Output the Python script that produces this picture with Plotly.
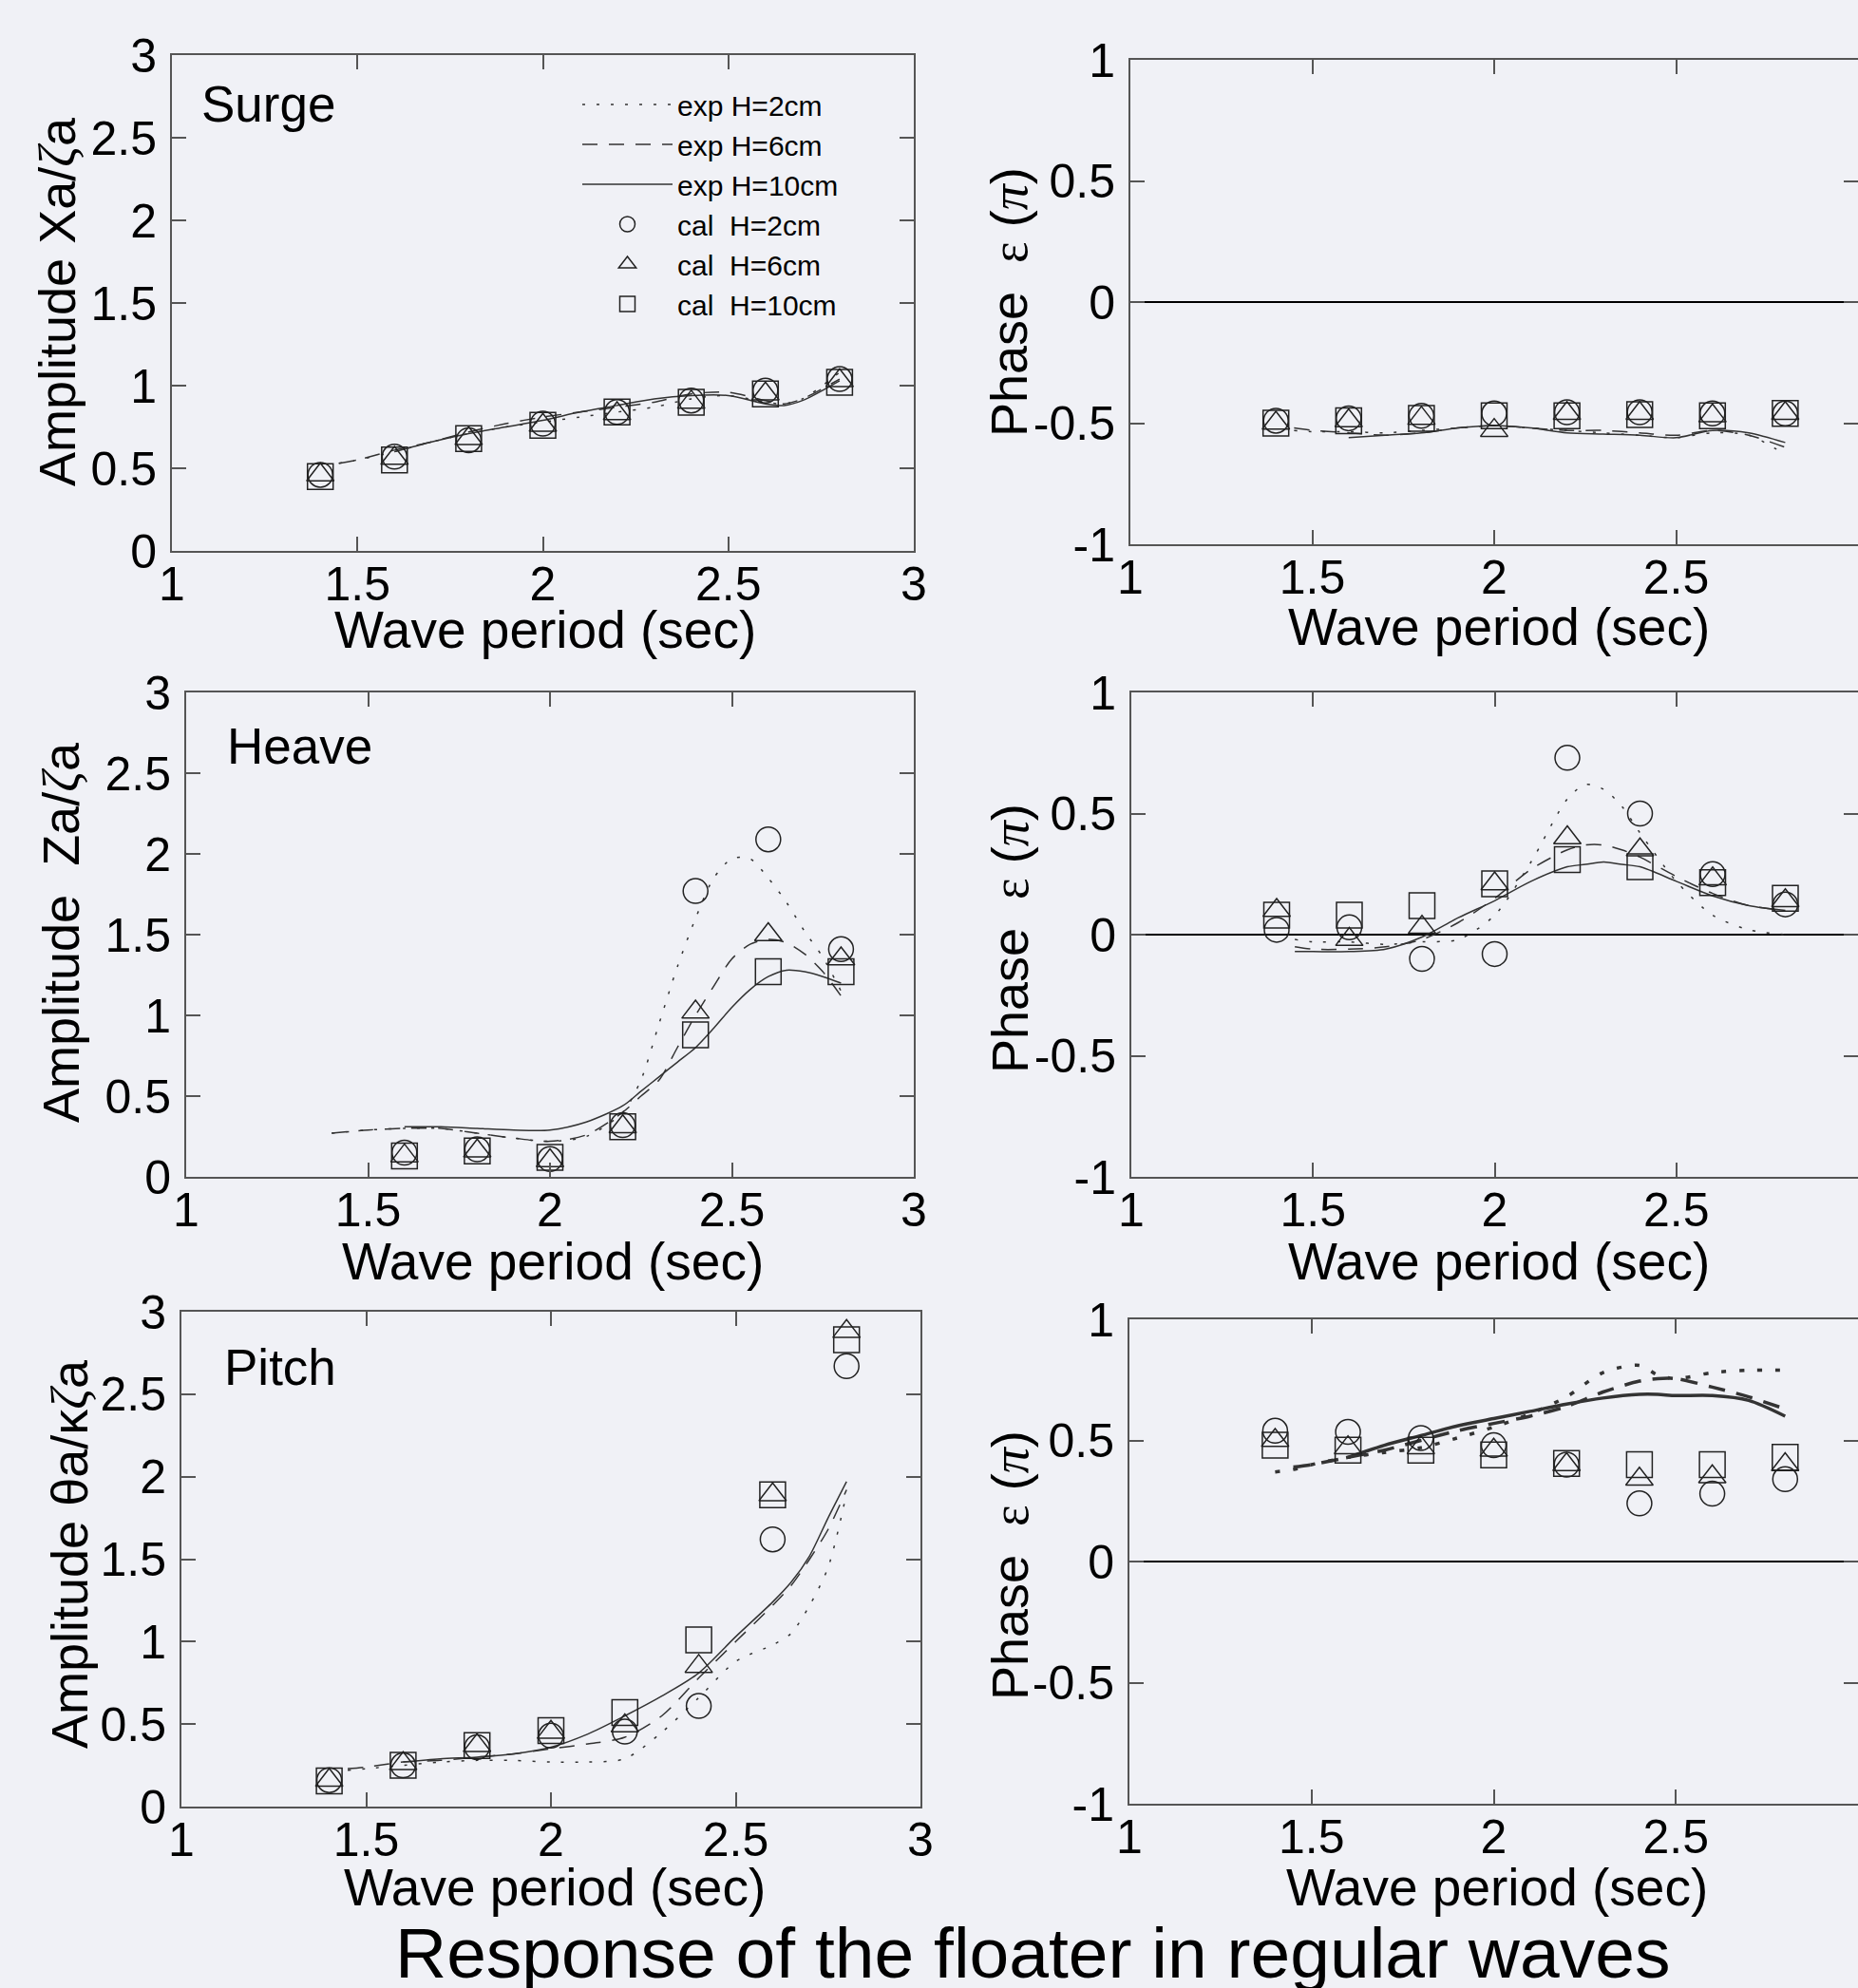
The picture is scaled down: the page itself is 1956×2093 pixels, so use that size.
import plotly.graph_objects as go

# ---------------- data ----------------
T_cal = [1.4, 1.6, 1.8, 2.0, 2.2, 2.4, 2.6, 2.8]

# Surge amplitude
surge_amp_T = [1.45, 1.5, 1.6, 1.7, 1.8, 1.9, 2.0, 2.1, 2.2, 2.3, 2.4, 2.5, 2.6, 2.65, 2.7, 2.8]
surge_amp_exp_H2 = [0.53, 0.55, 0.60, 0.66, 0.71, 0.75, 0.78, 0.81, 0.84, 0.87, 0.92, 0.94, 0.90, 0.89, 0.92, 1.08]
surge_amp_exp_H6 = [0.53, 0.55, 0.61, 0.66, 0.72, 0.77, 0.81, 0.84, 0.87, 0.90, 0.95, 0.96, 0.91, 0.89, 0.92, 1.04]
surge_amp_exp_H10 = [None, None, 0.60, 0.66, 0.71, 0.75, 0.79, 0.84, 0.88, 0.92, 0.94, 0.94, 0.89, 0.88, 0.91, 1.03]
surge_amp_cal_H2 = [0.46, 0.57, 0.67, 0.77, 0.84, 0.91, 0.97, 1.04]
surge_amp_cal_H6 = [0.46, 0.56, 0.68, 0.76, 0.83, 0.90, 0.95, 1.03]
surge_amp_cal_H10 = [0.45, 0.55, 0.68, 0.76, 0.84, 0.90, 0.95, 1.02]

# Surge phase
surge_ph_T = [1.45, 1.5, 1.6, 1.7, 1.8, 1.9, 2.0, 2.1, 2.2, 2.3, 2.4, 2.5, 2.6, 2.7, 2.8]
surge_ph_exp_H2 = [-0.53, -0.535, -0.535, -0.54, -0.53, -0.52, -0.51, -0.52, -0.53, -0.54, -0.55, -0.56, -0.54, -0.55, -0.63]
surge_ph_exp_H6 = [-0.52, -0.53, -0.54, -0.55, -0.54, -0.52, -0.51, -0.52, -0.53, -0.53, -0.54, -0.55, -0.53, -0.55, -0.60]
surge_ph_exp_H10 = [None, None, -0.56, -0.55, -0.54, -0.52, -0.51, -0.52, -0.54, -0.545, -0.55, -0.56, -0.53, -0.54, -0.58]
surge_ph_cal_H2 = [-0.49, -0.48, -0.47, -0.46, -0.455, -0.455, -0.46, -0.46]
surge_ph_cal_H6 = [-0.50, -0.49, -0.48, -0.53, -0.46, -0.46, -0.47, -0.46]
surge_ph_cal_H10 = [-0.50, -0.49, -0.48, -0.47, -0.47, -0.465, -0.47, -0.46]

# Heave amplitude
heave_amp_T = [1.4, 1.5, 1.6, 1.7, 1.8, 1.9, 2.0, 2.1, 2.2, 2.25, 2.3, 2.35, 2.4, 2.45, 2.5, 2.55, 2.6, 2.65, 2.7, 2.75, 2.8]
heave_amp_exp_H2 = [0.27, 0.29, 0.30, 0.30, 0.27, 0.24, 0.22, 0.25, 0.40, 0.60, 0.95, 1.30, 1.60, 1.85, 1.97, 1.97, 1.85, 1.70, 1.52, 1.36, 1.15]
heave_amp_exp_H6 = [0.27, 0.29, 0.30, 0.30, 0.27, 0.24, 0.22, 0.26, 0.40, 0.50, 0.60, 0.80, 1.00, 1.18, 1.35, 1.44, 1.47, 1.45, 1.38, 1.27, 1.12]
heave_amp_exp_H10 = [None, None, 0.31, 0.31, 0.30, 0.29, 0.29, 0.34, 0.44, 0.53, 0.62, 0.71, 0.80, 0.92, 1.05, 1.16, 1.24, 1.28, 1.27, 1.24, 1.20]
heave_amp_cal_H2 = [None, 0.15, 0.17, 0.11, 0.32, 1.77, 2.09, 1.41]
heave_amp_cal_H6 = [None, 0.13, 0.16, 0.10, 0.31, 1.02, 1.50, 1.35]
heave_amp_cal_H10 = [None, 0.13, 0.16, 0.12, 0.31, 0.88, 1.27, 1.27]

# Heave phase
heave_ph_T = [1.45, 1.5, 1.6, 1.7, 1.8, 1.9, 2.0, 2.1, 2.2, 2.25, 2.3, 2.35, 2.4, 2.5, 2.6, 2.7, 2.8]
heave_ph_exp_H2 = [-0.02, -0.03, -0.03, -0.04, -0.03, -0.02, 0.08, 0.30, 0.56, 0.62, 0.60, 0.53, 0.42, 0.22, 0.08, 0.02, 0.00]
heave_ph_exp_H6 = [-0.05, -0.06, -0.06, -0.05, -0.02, 0.05, 0.15, 0.27, 0.35, 0.37, 0.37, 0.35, 0.32, 0.24, 0.17, 0.12, 0.10]
heave_ph_exp_H10 = [-0.07, -0.07, -0.07, -0.06, -0.01, 0.07, 0.14, 0.22, 0.28, 0.29, 0.30, 0.29, 0.28, 0.22, 0.16, 0.12, 0.10]
heave_ph_cal_H2 = [0.02, 0.03, -0.10, -0.08, 0.73, 0.50, 0.25, 0.125]
heave_ph_cal_H6 = [0.10, -0.02, 0.03, 0.21, 0.40, 0.35, 0.23, 0.14]
heave_ph_cal_H10 = [0.08, 0.08, 0.12, 0.21, 0.31, 0.28, 0.215, 0.15]

# Pitch amplitude
pitch_amp_T = [1.45, 1.5, 1.6, 1.7, 1.8, 1.9, 2.0, 2.1, 2.2, 2.3, 2.4, 2.5, 2.6, 2.65, 2.7, 2.75, 2.8]
pitch_amp_exp_H2 = [0.22, 0.23, 0.25, 0.27, 0.28, 0.28, 0.27, 0.27, 0.29, 0.45, 0.66, 0.88, 0.98, 1.05, 1.22, 1.45, 1.90]
pitch_amp_exp_H6 = [0.23, 0.24, 0.27, 0.28, 0.30, 0.32, 0.35, 0.38, 0.42, 0.55, 0.78, 1.00, 1.22, 1.34, 1.50, 1.68, 1.92]
pitch_amp_exp_H10 = [None, None, 0.27, 0.29, 0.30, 0.32, 0.36, 0.44, 0.55, 0.67, 0.81, 1.03, 1.24, 1.36, 1.52, 1.75, 1.97]
pitch_amp_cal_H2 = [0.16, 0.25, 0.36, 0.43, 0.455, 0.61, 1.62, 2.67]
pitch_amp_cal_H6 = [0.16, 0.26, 0.37, 0.45, 0.49, 0.85, 1.89, 2.88]
pitch_amp_cal_H10 = [0.155, 0.25, 0.37, 0.46, 0.57, 1.01, 1.89, 2.83]

# Pitch phase
pitch_ph_T = [1.4, 1.45, 1.5, 1.6, 1.7, 1.8, 1.9, 2.0, 2.1, 2.2, 2.3, 2.4, 2.45, 2.5, 2.6, 2.7, 2.8]
pitch_ph_exp_H2 = [0.37, 0.38, 0.40, 0.43, 0.45, 0.47, 0.51, 0.555, 0.61, 0.68, 0.78, 0.81, 0.77, 0.755, 0.78, 0.79, 0.79]
pitch_ph_exp_H6 = [None, 0.39, 0.40, 0.43, 0.46, 0.50, 0.54, 0.57, 0.60, 0.64, 0.70, 0.745, 0.755, 0.755, 0.72, 0.68, 0.63]
pitch_ph_exp_H10 = [None, None, None, 0.43, 0.48, 0.52, 0.56, 0.59, 0.62, 0.65, 0.675, 0.69, 0.69, 0.685, 0.685, 0.665, 0.60]
pitch_ph_cal_H2 = [0.54, 0.535, 0.51, 0.48, 0.40, 0.24, 0.28, 0.34]
pitch_ph_cal_H6 = [0.50, 0.47, 0.47, 0.46, 0.40, 0.34, 0.35, 0.40]
pitch_ph_cal_H10 = [0.48, 0.46, 0.46, 0.44, 0.405, 0.40, 0.40, 0.43]

# ticks / labels
x_tick_vals = [1, 1.5, 2, 2.5, 3]
x_tick_text = ["1", "1.5", "2", "2.5", "3"]
amp_tick_vals = [0, 0.5, 1, 1.5, 2, 2.5, 3]
amp_tick_text = ["0", "0.5", "1", "1.5", "2", "2.5", "3"]
ph_tick_vals = [-1, -0.5, 0, 0.5, 1]
ph_tick_text = ["-1", "-0.5", "0", "0.5", "1"]
legend_names = ["exp H=2cm", "exp H=6cm", "exp H=10cm",
                "cal\u00a0 H=2cm", "cal\u00a0 H=6cm", "cal\u00a0 H=10cm"]

# ---------------- layout helpers ----------------
W, H = 1956, 2093
BG = "#f0f1f6"
FONT = "Liberation Sans, Arial, sans-serif"


def xd(a, b):
    return [a / W, min(b / W, 1.0)]


def yd(top, bottom):
    return [1 - bottom / H, 1 - top / H]


panels = [
    dict(x=(181, 962), y=(58, 580), kind="amp", T=surge_amp_T,
         exp=[surge_amp_exp_H2, surge_amp_exp_H6, surge_amp_exp_H10],
         cal=[surge_amp_cal_H2, surge_amp_cal_H6, surge_amp_cal_H10], bold=False),
    dict(x=(1190, 1956), y=(63, 573), kind="ph", T=surge_ph_T,
         exp=[surge_ph_exp_H2, surge_ph_exp_H6, surge_ph_exp_H10],
         cal=[surge_ph_cal_H2, surge_ph_cal_H6, surge_ph_cal_H10], bold=False),
    dict(x=(196, 962), y=(729, 1239), kind="amp", T=heave_amp_T,
         exp=[heave_amp_exp_H2, heave_amp_exp_H6, heave_amp_exp_H10],
         cal=[heave_amp_cal_H2, heave_amp_cal_H6, heave_amp_cal_H10], bold=False),
    dict(x=(1191, 1956), y=(729, 1239), kind="ph", T=heave_ph_T,
         exp=[heave_ph_exp_H2, heave_ph_exp_H6, heave_ph_exp_H10],
         cal=[heave_ph_cal_H2, heave_ph_cal_H6, heave_ph_cal_H10], bold=False),
    dict(x=(191, 969), y=(1381, 1902), kind="amp", T=pitch_amp_T,
         exp=[pitch_amp_exp_H2, pitch_amp_exp_H6, pitch_amp_exp_H10],
         cal=[pitch_amp_cal_H2, pitch_amp_cal_H6, pitch_amp_cal_H10], bold=False),
    dict(x=(1189, 1956), y=(1389, 1899), kind="ph", T=pitch_ph_T,
         exp=[pitch_ph_exp_H2, pitch_ph_exp_H6, pitch_ph_exp_H10],
         cal=[pitch_ph_cal_H2, pitch_ph_cal_H6, pitch_ph_cal_H10], bold=True),
]

dash_thin = ["3px,12px", "16px,12px", "solid"]
dash_bold = ["5px,14px", "18px,12px", "solid"]
symbols = ["circle-open", "triangle-up-open", "square-open"]
msizes = [26, 25, 27]
LINE_C = "#333333"
MARK_C = "#222222"

fig = go.Figure()
layout = dict(
    width=W, height=H,
    paper_bgcolor=BG, plot_bgcolor=BG,
    margin=dict(l=0, r=0, t=0, b=0, autoexpand=False),
    font=dict(family=FONT, color="black", size=30),
    showlegend=True,
    legend=dict(x=608 / W, y=1 - 84 / H, xanchor="left", yanchor="top",
                bgcolor="rgba(0,0,0,0)", borderwidth=0,
                font=dict(family=FONT, size=30, color="black"),
                itemwidth=95, tracegroupgap=0, traceorder="normal"),
)

for i, p in enumerate(panels):
    n = "" if i == 0 else str(i + 1)
    xa, ya = "x" + n, "y" + n
    first = (i == 0)
    lw = 3.5 if p["bold"] else 1.5
    dashes = dash_bold if p["bold"] else dash_thin
    for k in range(3):
        fig.add_trace(go.Scatter(
            x=p["T"], y=p["exp"][k], mode="lines", xaxis=xa, yaxis=ya,
            line=dict(color=LINE_C, width=lw, dash=dashes[k], shape="spline", smoothing=0.8),
            name=legend_names[k], legendgroup=legend_names[k], showlegend=first,
            connectgaps=False))
    for k in range(3):
        fig.add_trace(go.Scatter(
            x=T_cal, y=p["cal"][k], mode="markers", xaxis=xa, yaxis=ya,
            marker=dict(symbol=symbols[k], size=msizes[k], color=MARK_C,
                        line=dict(width=1.5, color=MARK_C)),
            name=legend_names[3 + k], legendgroup=legend_names[3 + k], showlegend=first))

    common = dict(showline=True, linecolor="#555555", linewidth=2, mirror="ticks",
                  ticks="inside", ticklen=15, tickwidth=1.5, tickcolor="#555555",
                  showgrid=False, tickfont=dict(family=FONT, size=50, color="black"))
    layout["xaxis" + n] = dict(domain=xd(*p["x"]), anchor=ya, range=[1, 3],
                               tickmode="array", tickvals=x_tick_vals, ticktext=x_tick_text,
                               zeroline=False, ticklabelstandoff=-10, **common)
    if p["kind"] == "amp":
        layout["yaxis" + n] = dict(domain=yd(*p["y"]), anchor=xa, range=[0, 3],
                                   tickmode="array", tickvals=amp_tick_vals, ticktext=amp_tick_text,
                                   zeroline=False, ticklabelstandoff=4, **common)
    else:
        layout["yaxis" + n] = dict(domain=yd(*p["y"]), anchor=xa, range=[-1, 1],
                                   tickmode="array", tickvals=ph_tick_vals, ticktext=ph_tick_text,
                                   zeroline=True, zerolinecolor="black", zerolinewidth=2,
                                   ticklabelstandoff=4, **common)

fig.update_layout(**layout)


def ann(text, x, y, size, angle=0, xanchor="center"):
    fig.add_annotation(text=text, x=x / W, y=1 - y / H, xref="paper", yref="paper",
                       showarrow=False, textangle=angle, xanchor=xanchor, yanchor="middle",
                       font=dict(family=FONT, size=size, color="black"))


zeta = '<span style="font-family:Liberation Serif"><i>ζ</i></span>'
pi_ = '<span style="font-family:Liberation Serif"><i>π</i></span>'
eps = '<span style="font-family:Liberation Serif">ε</span>'

# x-axis titles
for (cx, cy) in [(574, 663), (1578, 660), (582, 1328), (1578, 1328), (584, 1987), (1576, 1987)]:
    ann("Wave period (sec)", cx, cy, 55)

# y-axis titles
ann("Amplitude Xa/" + zeta + "a", 61, 318, 54, -90)
ann("Amplitude \u00a0Za/" + zeta + "a", 64, 982, 54, -90)
ann("Amplitude θa/κ" + zeta + "a", 73, 1636, 54, -90)
for cy in [318, 988, 1648]:
    ann("Phase \u00a0" + eps + " (" + pi_ + ")", 1063, cy, 54, -90)

# panel labels
ann("Surge", 210, 109, 53, xanchor="left")
ann("Heave", 237, 785, 53, xanchor="left")
ann("Pitch", 234, 1439, 53, xanchor="left")

# figure title
ann("Response of the floater in regular waves", 1087, 2056, 75)

fig.write_html(
    "out.html",
    config={"displayModeBar": False},
    post_script="document.body.style.margin='0';document.body.style.padding='0';"
                "document.body.style.background='#f0f1f6';",
)
